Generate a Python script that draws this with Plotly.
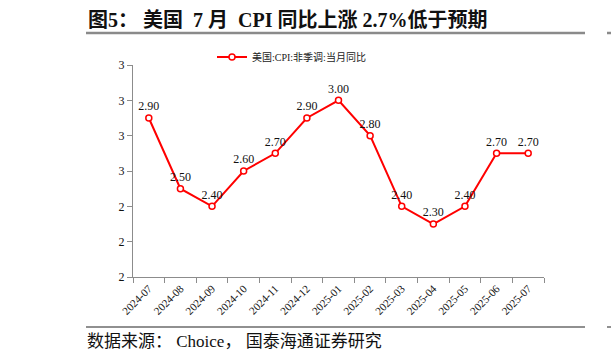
import plotly.graph_objects as go

months = ["2024-07", "2024-08", "2024-09", "2024-10", "2024-11", "2024-12",
          "2025-01", "2025-02", "2025-03", "2025-04", "2025-05", "2025-06", "2025-07"]
cpi_yoy = [2.90, 2.50, 2.40, 2.60, 2.70, 2.90, 3.00, 2.80, 2.40, 2.30, 2.40, 2.70, 2.70]
series_name = "美国:CPI:非季调:当月同比"
NB = "\u00a0"
title_text = f"图5：{NB}美国{NB}{NB}7{NB}月{NB}{NB}CPI{NB}同比上涨{NB}2.7%低于预期"
source_text = f"数据来源：{NB}Choice，{NB}国泰海通证券研究"

W, H = 611, 360
L, R, T, B = 133, 544, 65, 277  # plot area in pixels
pw, ph = R - L, B - T

def px(x):
    return (x - L) / pw

def py(y):
    return (B - y) / ph

SERIF = "Liberation Serif, Times New Roman, Noto Sans CJK SC, serif"

fig = go.Figure()
fig.add_trace(go.Scatter(
    x=months, y=cpi_yoy, name=series_name,
    mode="lines+markers+text",
    line=dict(color="#FF0000", width=2),
    marker=dict(symbol="circle", size=6, color="white", line=dict(color="#FF0000", width=1.5)),
    text=[f"{v:.2f}" for v in cpi_yoy],
    textposition="top center",
    textfont=dict(family=SERIF, size=12, color="#111"),
    cliponaxis=False,
))

fig.update_layout(
    width=W, height=H,
    margin=dict(l=L, r=W - R, t=T, b=H - B, autoexpand=False),
    paper_bgcolor="white", plot_bgcolor="white",
    font=dict(family=SERIF, color="#222"),
    showlegend=True,
    legend=dict(orientation="h", x=px(212), y=py(57), xanchor="left", yanchor="middle",
                font=dict(family=SERIF, size=10), bgcolor="rgba(0,0,0,0)"),
    xaxis=dict(type="category", range=[-0.5, len(months) - 0.5],
               showline=True, linecolor="#8c8c8c", linewidth=1,
               ticks="outside", tickson="boundaries", ticklen=5, tickcolor="#8c8c8c",
               tickangle=-45, tickfont=dict(family=SERIF, size=11, color="#111"),
               showgrid=False, zeroline=False),
    yaxis=dict(range=[2.0, 3.2], dtick=0.2, tick0=2.0, tickformat=".0f",
               showline=True, linecolor="#8c8c8c", linewidth=1,
               ticks="outside", ticklen=5, tickcolor="#8c8c8c",
               tickfont=dict(family=SERIF, size=12, color="#111"),
               showgrid=False, zeroline=False),
)

annotations = [
    dict(text=f"<b>{title_text}</b>", xref="paper", yref="paper", x=px(86), y=py(20),
         xanchor="left", yanchor="middle", showarrow=False,
         font=dict(family=SERIF, size=20, color="#111")),
    dict(text=source_text, xref="paper", yref="paper", x=px(85), y=py(341),
         xanchor="left", yanchor="middle", showarrow=False,
         font=dict(family=SERIF, size=17, color="#111")),
]
fig.update_layout(annotations=annotations)

shapes = [
    dict(type="line", xref="paper", yref="paper", x0=px(86), x1=px(585), y0=py(33), y1=py(33),
         line=dict(color="#8a8a8a", width=2.5)),
    dict(type="line", xref="paper", yref="paper", x0=px(86), x1=px(585), y0=py(327), y1=py(327),
         line=dict(color="#222", width=1.2)),
    dict(type="line", xref="paper", yref="paper", x0=px(607), x1=px(640), y0=py(33), y1=py(33),
         line=dict(color="#8a8a8a", width=2.5)),
    dict(type="line", xref="paper", yref="paper", x0=px(607), x1=px(640), y0=py(327), y1=py(327),
         line=dict(color="#222", width=1.2)),
]
fig.update_layout(shapes=shapes)

fig.write_html("out.html", config={"displayModeBar": False},
               post_script="document.body.style.margin='0px';")
